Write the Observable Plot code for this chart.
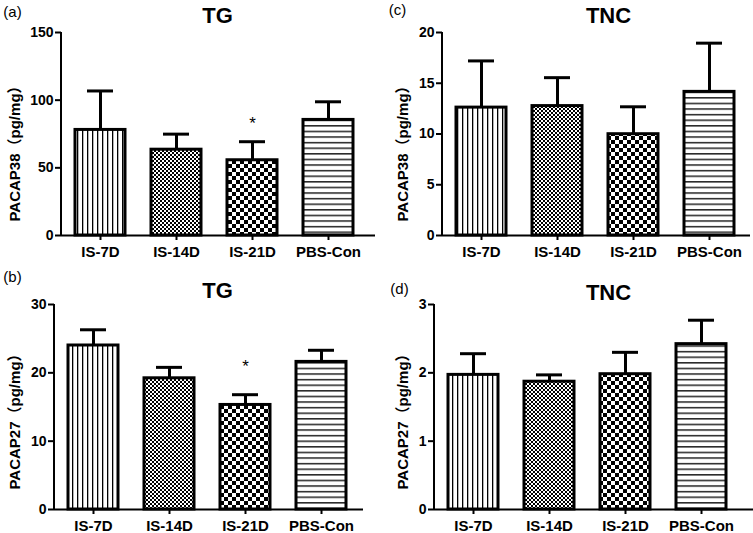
<!DOCTYPE html>
<html><head><meta charset="utf-8">
<script src="https://cdn.jsdelivr.net/npm/d3@7"></script>
<script src="https://cdn.jsdelivr.net/npm/@observablehq/plot@0.6"></script>
<style>
body{margin:0;background:#fff;}
#wrap{position:relative;width:753px;height:533px;overflow:hidden;background:#fff;}
#wrap > div{position:absolute;}
#wrap svg{font-family:"Liberation Sans",Arial,"Noto Sans CJK SC",sans-serif;overflow:visible;background:transparent;}
</style></head><body>
<svg width="0" height="0" style="position:absolute">
<defs>
<pattern id="pVert" width="5" height="6" patternUnits="userSpaceOnUse"><rect width="5" height="6" fill="#fff"/><rect x="2" width="1.3" height="6" fill="#000"/></pattern>
<pattern id="pFine" width="4" height="4" patternUnits="userSpaceOnUse"><rect width="4" height="4" fill="#fff"/><rect width="2" height="2" fill="#000"/><rect x="2" y="2" width="2" height="2" fill="#000"/></pattern>
<pattern id="pCoarse" width="8" height="8" patternUnits="userSpaceOnUse"><rect width="8" height="8" fill="#fff"/><rect width="4" height="4" fill="#000"/><rect x="4" y="4" width="4" height="4" fill="#000"/></pattern>
<pattern id="pHorz" width="6" height="5.6" patternUnits="userSpaceOnUse"><rect width="6" height="5.6" fill="#fff"/><rect y="2" width="6" height="1.3" fill="#000"/></pattern>
</defs></svg>
<div id="wrap"></div>
<script>
// ---- data ----
const groups = ["IS-7D", "IS-14D", "IS-21D", "PBS-Con"];
const tg38Mean = [78.0, 63.4, 55.6, 85.4];
const tg38Err = [28.8, 11.5, 13.7, 13.4];
const tnc38Mean = [12.6, 12.75, 9.98, 14.15];
const tnc38Err = [4.6, 2.8, 2.7, 4.8];
const tg27Mean = [24.0, 19.2, 15.3, 21.6];
const tg27Err = [2.3, 1.6, 1.5, 1.7];
const tnc27Mean = [1.97, 1.87, 1.98, 2.42];
const tnc27Err = [0.31, 0.10, 0.32, 0.35];
const ticks38TG = [0, 50, 100, 150];
const ticks38TNC = [0, 5, 10, 15, 20];
const ticks27TG = [0, 10, 20, 30];
const ticks27TNC = [0, 1, 2, 3];
const starGroup = "IS-21D";
const starTG38 = 85.7;
const starTG27 = 21.5;
const label38 = "PACAP38（pg/mg）";
const label27 = "PACAP27（pg/mg）";

// ---- styles ----
const patterns = ["pVert", "pFine", "pCoarse", "pHorz"];

function panel(o) {
  const rows = groups.map((g, i) => ({group: g, mean: o.mean[i], top: o.mean[i] + o.err[i], fill: `url(#${patterns[i]})`}));
  const stars = o.star == null ? [] : [{group: starGroup, y: o.star}];
  const yLine = (index, scales, values, dims) => {
    const l = document.createElementNS("http://www.w3.org/2000/svg", "line");
    l.setAttribute("x1", dims.marginLeft); l.setAttribute("x2", dims.marginLeft);
    l.setAttribute("y1", dims.marginTop); l.setAttribute("y2", dims.height - dims.marginBottom);
    l.setAttribute("stroke", "#000"); l.setAttribute("stroke-width", 2);
    return l;
  };
  const chart = Plot.plot({
    width: o.width, height: o.height,
    marginLeft: o.ml, marginRight: o.mr, marginTop: o.mt, marginBottom: o.mb,
    x: {domain: groups, range: o.range, paddingInner: 0.346, paddingOuter: 0.173, label: null},
    y: {domain: [0, o.ticks[o.ticks.length - 1]], label: null},
    color: {type: "identity"},
    style: {fontFamily: '"Liberation Sans",Arial,"Noto Sans CJK SC",sans-serif', background: "transparent", color: "#000"},
    marks: [
      Plot.ruleX(rows, {x: "group", y1: "mean", y2: "top", stroke: "#000", strokeWidth: 3}),
      Plot.tickY(rows, {x: "group", y: "top", stroke: "#000", strokeWidth: 3, insetLeft: 12, insetRight: 12}),
      Plot.barY(rows, {x: "group", y: "mean", fill: "fill", stroke: "#000", strokeWidth: 3}),
      Plot.text(stars, {x: "group", y: "y", text: () => "*", fontSize: 17, dy: 4}),
      Plot.ruleY([0], {stroke: "#000", strokeWidth: 2}),
      yLine,
      Plot.axisY({ticks: o.ticks, tickFormat: (d) => String(d), tickSize: 6, tickPadding: 2, fontSize: 14, fontWeight: "bold", strokeWidth: 2, label: null}),
      Plot.axisX({tickSize: 5, tickPadding: 6, fontSize: 15, fontWeight: "bold", strokeWidth: 2, label: null}),
      Plot.text([o.title], {frameAnchor: "top-left", dx: o.titleDx, dy: o.titleDy, textAnchor: "middle", lineAnchor: "middle", fontSize: 22, fontWeight: "bold"}),
      Plot.text([o.tag], {frameAnchor: "top-left", dx: o.tagDx, dy: o.tagDy, textAnchor: "middle", lineAnchor: "middle", fontSize: 15}),
      Plot.text([o.label], {frameAnchor: "left", rotate: -90, dx: o.labDx, dy: o.labDy, textAnchor: "middle", lineAnchor: "middle", fontSize: 15, fontWeight: "bold"})
    ]
  });
  const div = document.createElement("div");
  div.style.left = o.left + "px"; div.style.top = o.top + "px";
  div.appendChild(chart);
  document.getElementById("wrap").appendChild(div);
}

panel({mean: tg38Mean, err: tg38Err, ticks: ticks38TG, star: starTG38, title: "TG", tag: "(a)", label: label38,
  left: 0, top: 0, width: 376, height: 265, ml: 61, mr: 1, mt: 32, mb: 30, range: [61, 367],
  titleDx: 156, titleDy: -17, tagDx: -49, tagDy: -20, labDx: -46, labDy: 16});
panel({mean: tnc38Mean, err: tnc38Err, ticks: ticks38TNC, star: null, title: "TNC", tag: "(c)", label: label38,
  left: 375, top: 0, width: 378, height: 265, ml: 67, mr: 3, mt: 32, mb: 30, range: [67, 373],
  titleDx: 166, titleDy: -17, tagDx: -45, tagDy: -22, labDx: -39, labDy: 16});
panel({mean: tg27Mean, err: tg27Err, ticks: ticks27TG, star: starTG27, title: "TG", tag: "(b)", label: label27,
  left: 0, top: 265, width: 376, height: 268, ml: 54, mr: 13, mt: 39, mb: 24, range: [54, 360],
  titleDx: 163, titleDy: -14, tagDx: -42, tagDy: -27, labDx: -39, labDy: 11});
panel({mean: tnc27Mean, err: tnc27Err, ticks: ticks27TNC, star: null, title: "TNC", tag: "(d)", label: label27,
  left: 375, top: 265, width: 378, height: 268, ml: 59, mr: 0, mt: 39, mb: 24, range: [59, 365],
  titleDx: 174, titleDy: -12, tagDx: -35, tagDy: -15, labDx: -31, labDy: 11});
</script>
</body></html>
